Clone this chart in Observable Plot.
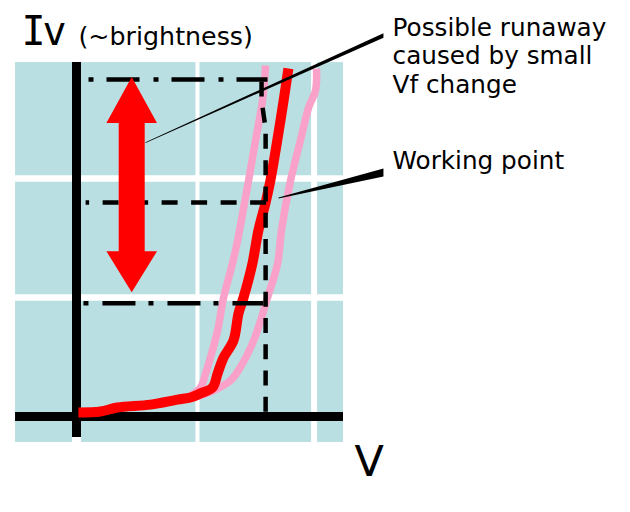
<!DOCTYPE html>
<html>
<head>
<meta charset="utf-8">
<script src="https://cdn.jsdelivr.net/npm/d3@7"></script>
<script src="https://cdn.jsdelivr.net/npm/@observablehq/plot@0.6"></script>
<style>
  html, body { margin: 0; padding: 0; background: #ffffff; }
  #chart svg { display: block; }
</style>
</head>
<body>
<div id="chart"></div>
<script>
// ---- Data (V, Iv in arbitrary units; origin = axes crossing) ----
// nominal LED characteristic (red)
const nominalV = [0.08, 1.0, 1.71, 3.08, 4.21, 4.75, 5.17, 5.67, 5.88, 6.13, 6.54, 6.75, 6.96, 7.33, 7.58, 7.88, 8.08, 8.5, 8.83];
const nominalI = [0.17, 0.21, 0.38, 0.5, 0.71, 0.8, 0.97, 1.22, 1.81, 2.48, 3.19, 4.33, 5.0, 6.43, 7.82, 8.99, 9.92, 12.44, 14.62];
// characteristic with lower Vf (pink, left)
const lowVfV = [4.75, 5.17, 5.38, 5.58, 5.88, 6.13, 6.5, 6.71, 7.17, 7.46, 7.75, 7.88];
const lowVfI = [0.88, 1.22, 1.81, 2.48, 3.61, 5.0, 6.43, 7.39, 9.92, 11.6, 13.28, 14.75];
// characteristic with higher Vf (pink, right)
const highVfV = [4.75, 5.71, 6.42, 6.92, 7.38, 7.67, 7.96, 8.38, 8.54, 8.92, 9.33, 9.67, 9.96, 10.0];
const highVfI = [0.76, 1.09, 1.51, 2.23, 3.19, 4.03, 5.0, 6.43, 7.82, 9.92, 11.6, 12.98, 13.7, 14.62];

// working point and brightness range
const workV = 7.88;
const workI = 8.99;
const maxI = 14.16;
const minI = 4.76;
const refStartV = [0.38, 0.5, 0.29];    // start of horizontal guides (work, max, min)
const refEndV = [7.96, 7.96, 7.79];     // end of horizontal guides
const vGuideV = [7.71, 7.71, 7.88, 7.88];
const vGuideI = [14.41, 13.28, 12.1, 0.08];

// brightness-change arrow
const arrowV = 2.30;
const arrowRange = [5.22, 14.26];

// panel and grid
const panelV = [-2.54, 11.125];
const panelI = [-1.09, 14.87];
const gridV = [5.04, 9.9];
const gridI = [5.0, 10.0];
const axisBottomI = -0.88;

// annotations
const yTitle = "Iv";
const yNote = "(~brightness)";
const xTitle = "V";
const notes = ["Possible runaway\ncaused by small\nVf change", "Working point"];
const noteV = [13.17, 13.17];
const noteI = [13.6, 10.42];
const leaderFrom = [[2.875, 11.51], [8.42, 9.18]];
const leaderTo = [[12.79, 16.01], [12.79, 10.25]];

// ---- Layout constants ----
const W = 630, H = 512;
const OX = 76, OY = 416, KX = 24, KY = 23.8; // px per unit
const BLUE = "#badfe2", PINK = "#f9a1c8", RED = "#ff0000";

const toRows = (xs, ys) => xs.map((x, i) => ({x, y: ys[i]}));
const nominal = toRows(nominalV, nominalI);
const lowVf = toRows(lowVfV, lowVfI);
const highVf = toRows(highVfV, highVfI);
const vGuide = toRows(vGuideV, vGuideI);
const guideY = [workI, maxI, minI];
const guides = guideY.map((y, i) => [{x: refStartV[i], y}, {x: refEndV[i], y}]);

// arrow polygon (sizes in px converted to units)
const hw = 25.3 / KX, sw = 13 / KX, hlTop = 46 / KY, hlBot = 41 / KY;
const [a0, a1] = arrowRange;
const arrowPoly = [
  [arrowV, a1], [arrowV + hw, a1 - hlTop], [arrowV + sw, a1 - hlTop],
  [arrowV + sw, a0 + hlBot], [arrowV + hw, a0 + hlBot], [arrowV, a0],
  [arrowV - hw, a0 + hlBot], [arrowV - sw, a0 + hlBot], [arrowV - sw, a1 - hlTop],
  [arrowV - hw, a1 - hlTop], [arrowV, a1]
].map(([x, y]) => ({x, y}));

// tapered leader wedges
const endW = [4.5, 8];
const leaders = leaderFrom.map((f, i) => {
  const t = leaderTo[i];
  const s = 0.4 / KY, e = endW[i] / 2 / KY;
  return [[f[0], f[1] + s], [t[0], t[1] + e], [t[0], t[1] - e], [f[0], f[1] - s], [f[0], f[1] + s]]
    .map(([x, y]) => ({x, y, k: i}));
}).flat();

const curveStyle = {x: "x", y: "y", curve: "catmull-rom", strokeLinecap: "butt", strokeLinejoin: "round"};
const dashStyle = {x: "x", y: "y", stroke: "black", strokeWidth: 4.5, strokeLinecap: "butt"};

const plot = Plot.plot({
  width: W, height: H,
  margin: 0,
  x: {domain: [-OX / KX, (W - OX) / KX], range: [0, W], axis: null},
  y: {domain: [(OY - H) / KY, OY / KY], range: [H, 0], axis: null},
  style: {background: "white", overflow: "visible"},
  marks: [
    // panel
    Plot.rect([0], {x1: panelV[0], x2: panelV[1], y1: panelI[0], y2: panelI[1], fill: BLUE}),
    // white grid
    Plot.ruleX([gridV[0]], {y1: panelI[0], y2: panelI[1], stroke: "white", strokeWidth: 4}),
    Plot.ruleX([gridV[1]], {y1: panelI[0], y2: panelI[1], stroke: "white", strokeWidth: 6}),
    Plot.ruleY(gridI, {x1: panelV[0], x2: panelV[1], stroke: "white", strokeWidth: 6.5}),
    Plot.ruleX([0], {y1: panelI[0], y2: panelI[1], stroke: "white", strokeWidth: 9}),
    // black axes
    Plot.ruleX([0], {y1: axisBottomI, y2: panelI[1], stroke: "black", strokeWidth: 9}),
    Plot.ruleY([0], {x1: panelV[0], x2: panelV[1], stroke: "black", strokeWidth: 9}),
    // curves
    Plot.line(lowVf, {...curveStyle, stroke: PINK, strokeWidth: 7.5}),
    Plot.line(highVf, {...curveStyle, stroke: PINK, strokeWidth: 7.5}),
    Plot.line(nominal, {...curveStyle, stroke: RED, strokeWidth: 10}),
    // guides
    Plot.line(guides[1], {...dashStyle, strokeDasharray: "5,13,33,14"}),
    Plot.line(guides[2], {...dashStyle, strokeDasharray: "5,14,33,13"}),
    Plot.line(guides[0], {...dashStyle, strokeDasharray: "16,13.5", strokeDashoffset: 12.5}),
    Plot.line(vGuide, {...dashStyle, strokeLinejoin: "miter", strokeDasharray: "15,11.3", strokeDashoffset: 18.3}),
    // arrow
    Plot.line(arrowPoly, {x: "x", y: "y", fill: RED, stroke: "none"}),
    // leaders
    Plot.line(leaders, {x: "x", y: "y", z: "k", fill: "black", stroke: "none"}),
    // texts
    Plot.text([yTitle], {x: -2.29, y: 15.61, text: d => d, textAnchor: "start", lineAnchor: "bottom",
      fontSize: 40, fontFamily: "DejaVu Sans Mono", fill: "black"}),
    Plot.text([yNote], {x: 0.083, y: 15.61, text: d => d, textAnchor: "start", lineAnchor: "bottom",
      fontSize: 25.3, fontFamily: "DejaVu Sans", fill: "black"}),
    Plot.text([xTitle], {x: 11.58, y: -2.48, text: d => d, textAnchor: "start", lineAnchor: "bottom",
      fontSize: 43, fontFamily: "DejaVu Sans", fill: "black"}),
    Plot.text(notes, {x: (d, i) => noteV[i], y: (d, i) => noteI[i], text: d => d, textAnchor: "start", lineAnchor: "bottom",
      fontSize: 24.7, lineHeight: 28.5 / 24.7, fontFamily: "DejaVu Sans", fill: "black"})
  ]
});

d3.select(plot).selectAll("text").filter(function () { return this.textContent === yTitle; })
  .attr("letter-spacing", "-3px");
document.getElementById("chart").appendChild(plot);
</script>
</body>
</html>
